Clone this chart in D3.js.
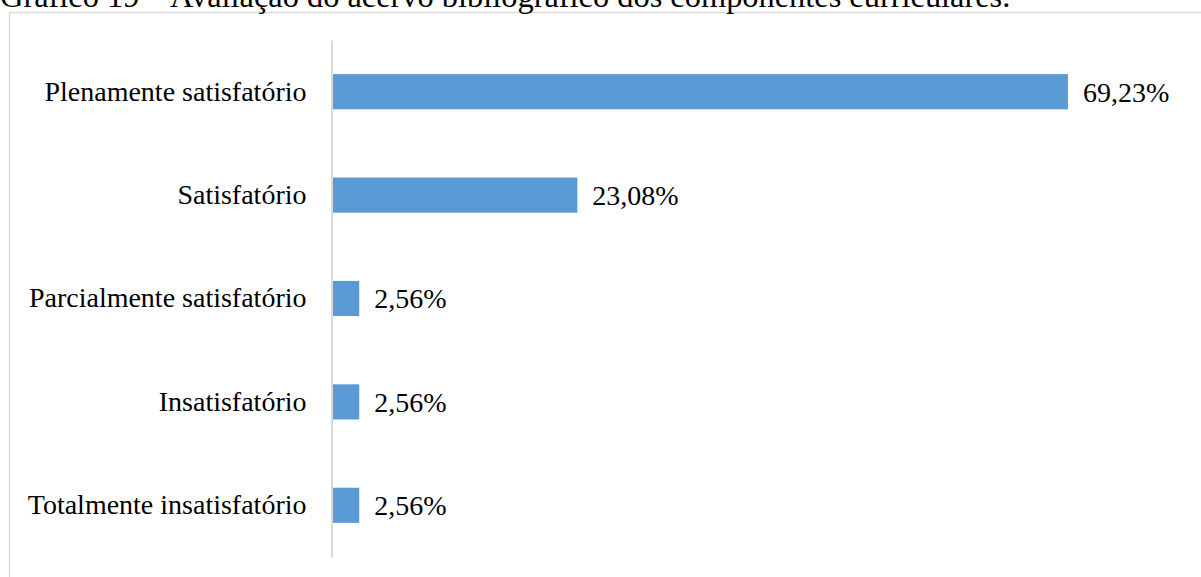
<!DOCTYPE html>
<html><head><meta charset="UTF-8">
<script src="https://cdn.jsdelivr.net/npm/d3@7/dist/d3.min.js"></script>
<style>
  body { margin: 0; background: #fff; font-family: "Liberation Serif", "Times New Roman", serif; }
  svg { display: block; }
  svg text { font-family: "Liberation Serif", "Times New Roman", serif; }
</style>
</head>
<body>
<svg id="chart"></svg>
<script>
  var categories = ["Plenamente satisfatório", "Satisfatório", "Parcialmente satisfatório", "Insatisfatório", "Totalmente insatisfatório"];
  var values = [69.23, 23.08, 2.56, 2.56, 2.56];
  var valueLabels = ["69,23%", "23,08%", "2,56%", "2,56%", "2,56%"];
  var title = "Gráfico 19 – Avaliação do acervo bibliográfico dos componentes curriculares.";

  var width = 1201, height = 577;
  var svg = d3.select("#chart").attr("width", width).attr("height", height);

  // moldura do gráfico
  svg.append("rect")
    .attr("x", 9.5).attr("y", 12.5)
    .attr("width", 1300).attr("height", 700)
    .attr("fill", "none").attr("stroke", "#d9d9d9").attr("stroke-width", 1.5);

  // título (cortado no topo como na imagem)
  svg.append("text")
    .attr("x", 0).attr("y", 7)
    .attr("font-size", 32.4)
    .attr("fill", "#000")
    .text(title);

  var xScale = d3.scaleLinear()
    .domain([0, 69.23])
    .range([332, 1068]);

  var yScale = d3.scaleBand()
    .domain(categories)
    .range([40, 557])
    .paddingInner(0.66)
    .paddingOuter(0.33);

  svg.selectAll("rect.bar")
    .data(values)
    .enter().append("rect")
    .attr("class", "bar")
    .attr("x", xScale(0))
    .attr("y", function (d, i) { return yScale(categories[i]); })
    .attr("width", function (d) { return xScale(d) - xScale(0); })
    .attr("height", yScale.bandwidth())
    .attr("fill", "#5b9bd5");

  // eixo vertical
  var yAxis = d3.axisLeft(yScale).tickSize(0).tickPadding(25);
  var gy = svg.append("g")
    .attr("transform", "translate(" + (xScale(0) - 0.5) + ",0)")
    .call(yAxis);
  gy.attr("font-family", null);
  gy.select(".domain").attr("stroke", "#d9d9d9").attr("stroke-width", 2);
  gy.selectAll("text")
    .attr("font-size", 28)
    .attr("fill", "#000");

  // rótulos de valor
  svg.selectAll("text.val")
    .data(values)
    .enter().append("text")
    .attr("class", "val")
    .attr("x", function (d) { return xScale(d) + 15; })
    .attr("y", function (d, i) { return yScale(categories[i]) + yScale.bandwidth() / 2; })
    .attr("dy", "0.35em")
    .attr("font-size", 28)
    .attr("fill", "#000")
    .text(function (d, i) { return valueLabels[i]; });
</script>
</body></html>
